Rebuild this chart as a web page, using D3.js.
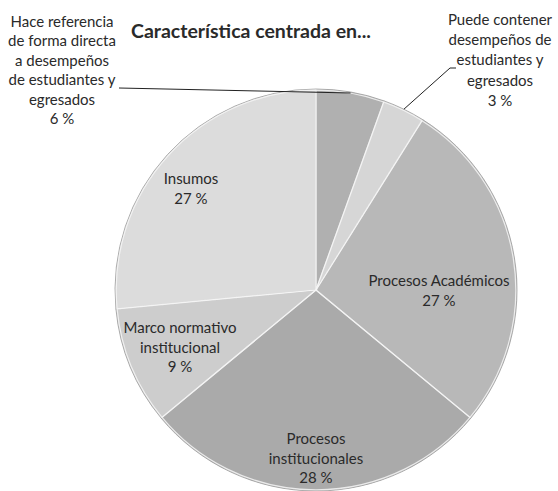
<!DOCTYPE html>
<html><head><meta charset="utf-8">
<script src="https://cdn.jsdelivr.net/npm/d3@7"></script>
<style>body{margin:0;background:#fff}svg{display:block}text{font-family:Lato,"Open Sans",sans-serif;fill:#2a2a2a}</style>
</head><body><svg id="c" width="558" height="491"></svg>
<script>
const categories = ["Hace referencia de forma directa a desempeños de estudiantes y egresados","Puede contener desempeños de estudiantes y egresados","Procesos Académicos","Procesos institucionales","Marco normativo institucional","Insumos"];
const values = [5.5, 3.4, 27.1, 28.0, 9.5, 26.5];
const pctLabels = ["6 %","3 %","27 %","28 %","9 %","27 %"];
const labelLines = [
  ["Hace referencia","de forma directa","a desempeños","de estudiantes y","egresados","6 %"],
  ["Puede contener","desempeños de","estudiantes y","egresados","3 %"],
  ["Procesos Académicos","27 %"],
  ["Procesos","institucionales","28 %"],
  ["Marco normativo","institucional","9 %"],
  ["Insumos","27 %"]
];
const innerColors = ["#c4c4c4","#e2e2e2","#cecece","#c9c9c9","#dedede","#e8e8e8"];
const outerColors = ["#b0b0b0","#d6d6d6","#b8b8b8","#aaaaaa","#cdcdcd","#dcdcdc"];
const title = "Característica centrada en...";

const svg = d3.select("#c");
const cx = 316, cy = 290, R = 201;
const defs = svg.append("defs");
innerColors.forEach((c,i)=>{
  const g = defs.append("radialGradient").attr("id","g"+i).attr("gradientUnits","userSpaceOnUse")
    .attr("cx",cx).attr("cy",cy).attr("r",R);
  g.append("stop").attr("offset","0").attr("stop-color", c);
  g.append("stop").attr("offset","1").attr("stop-color", outerColors[i]);
});
const pie = d3.pie().sort(null).value(d=>d);
const arcs = pie(values);
const arc = d3.arc().innerRadius(0).outerRadius(R);
const gp = svg.append("g").attr("transform",`translate(${cx},${cy})`);
gp.selectAll("path").data(arcs).join("path")
  .attr("d",arc).attr("fill",(d,i)=>`url(#g${i})`)
  .attr("stroke","#9c9c9c").attr("stroke-width",0.8).attr("stroke-linejoin","round");
gp.selectAll("path.hl").data(arcs).join("path").attr("class","hl")
  .attr("d",d3.arc().innerRadius(0).outerRadius(R-1.2)).attr("fill","none")
  .attr("stroke","#f6f6f6").attr("stroke-width",1.2).attr("opacity",0.85);

// title
svg.append("text").attr("x",251).attr("y",38).attr("text-anchor","middle")
  .style("font-weight","bold").style("font-size","19.5px").text(title);

// label positions
const pos = [[62,27],[500,25],[439,286],[316,444],[180,333],[191,184]];
const lh = [19.4,20.2,20,19.5,19.5,20];
labelLines.forEach((lines,i)=>{
  const t = svg.append("text").attr("text-anchor","middle").style("font-size","15px");
  lines.forEach((l,j)=>t.append("tspan").attr("x",pos[i][0]).attr("y",pos[i][1]+j*lh[i]).text(l));
});
// leader lines
const mid0 = (arcs[0].startAngle+arcs[0].endAngle)/2;
const mid1 = (arcs[1].startAngle+arcs[1].endAngle)/2;
svg.append("path").attr("fill","none").attr("stroke","#222").attr("stroke-width",1)
  .attr("d",`M119,88 L${cx+R*Math.sin(mid0)},${cy-R*Math.cos(mid0)+1}`);
svg.append("path").attr("fill","none").attr("stroke","#222").attr("stroke-width",1)
  .attr("d",`M${cx+R*Math.sin(mid1)},${cy-R*Math.cos(mid1)} L450,68 L456,68`);
</script></body></html>
